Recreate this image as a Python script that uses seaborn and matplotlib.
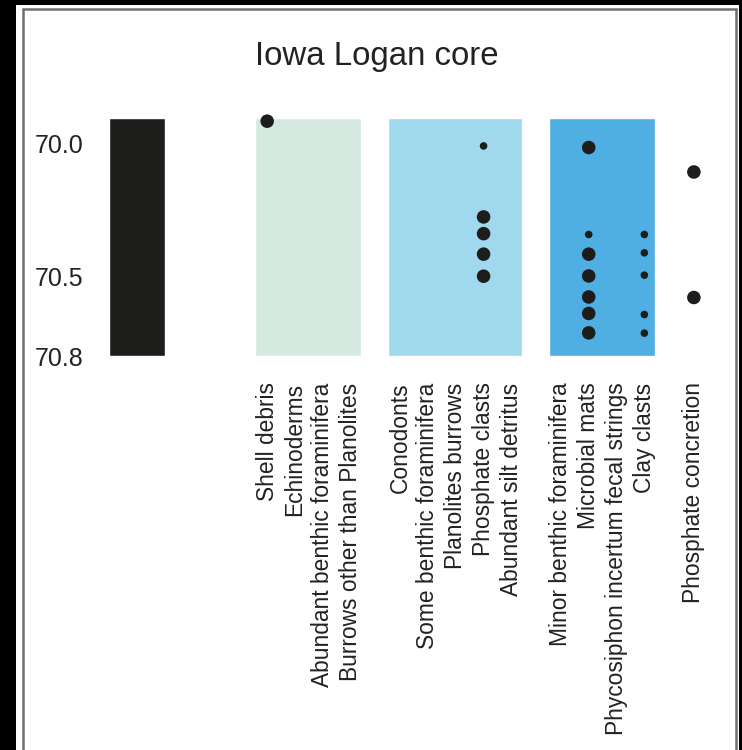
import numpy as np
import pandas as pd
import matplotlib.pyplot as plt
import seaborn as sns
from matplotlib.patches import Rectangle
from matplotlib.lines import Line2D

# 数据
categories = ['Shell debris', 'Echinoderms', 'Abundant benthic foraminifera',
              'Burrows other than Planolites',
              'Conodonts', 'Some benthic foraminifera', 'Planolites burrows',
              'Phosphate clasts', 'Abundant silt detritus',
              'Minor benthic foraminifera', 'Microbial mats',
              'Phycosiphon incertum fecal strings', 'Clay clasts',
              'Phosphate concretion']
groups = [0, 0, 0, 0, 1, 1, 1, 1, 1, 2, 2, 2, 2, 3]
band_colors = {0: '#d4eae0', 1: '#a0d8ee', 2: '#4faee2'}

core_top = 69.905
core_bottom = 70.8
depth_ticks = [70.0, 70.5, 70.8]

occ_category = (['Shell debris']
                + ['Phosphate clasts'] * 5
                + ['Microbial mats'] * 7
                + ['Clay clasts'] * 5
                + ['Phosphate concretion'] * 2)
occ_depth = ([69.917]
             + [70.01, 70.277, 70.34, 70.417, 70.5]
             + [70.016, 70.343, 70.417, 70.499, 70.578, 70.64, 70.713]
             + [70.343, 70.412, 70.496, 70.644, 70.714]
             + [70.108, 70.58])
occ_size = (['large']
            + ['small', 'large', 'large', 'large', 'large']
            + ['large', 'small', 'large', 'large', 'large', 'large', 'large']
            + ['small'] * 5
            + ['large', 'large'])

# 位置
group_gap = 0.78
xpos = np.arange(len(categories)) + group_gap * np.array(groups)
pos = dict(zip(categories, xpos))
core_x = -4.68

df = pd.DataFrame({'category': occ_category, 'depth': occ_depth, 'size': occ_size})
df['x'] = df['category'].map(pos)

sns.set_theme(style='white')
plt.rcParams['font.family'] = ['Liberation Sans', 'DejaVu Sans']

fig = plt.figure(figsize=(7.42, 7.5), dpi=100, facecolor='black')
# 白色背景和灰色边框
fig.add_artist(Rectangle((16 / 742, 0), (739 - 16) / 742, (750 - 5) / 750,
                         transform=fig.transFigure, facecolor='white',
                         edgecolor='none', zorder=-10))
for xs, ys in [([22.5, 22.5], [0, 741.5]), ([22.5, 735.5], [741.5, 741.5]),
               ([735.5, 735.5], [741.5, 0])]:
    fig.add_artist(Line2D(np.array(xs) / 742, np.array(ys) / 750,
                          transform=fig.transFigure, color='#707070', lw=1.8))

ax = fig.add_axes([95 / 742, 394 / 750, 620 / 742, 238 / 750])
ax.set_facecolor('none')

# 岩芯柱
ax.bar(core_x, core_bottom - core_top, bottom=core_top, width=1.98,
       color='#1d1d1b', zorder=1)

# 分组色带
for g, c in band_colors.items():
    gx = xpos[np.array(groups) == g]
    left, right = gx.min() - 0.43, gx.max() + 0.38
    ax.bar((left + right) / 2, core_bottom - core_top, bottom=core_top,
           width=right - left, color=c, zorder=1)

sns.scatterplot(data=df, x='x', y='depth', size='size',
                sizes={'large': 95, 'small': 30}, color='#1d1d1b',
                linewidth=0, legend=False, ax=ax, zorder=3, clip_on=False)

ax.set_xlim(-6.19, 16.1)
ax.set_ylim(core_bottom, core_top)
ax.set_xticks(xpos, categories, rotation=90, fontsize=16.4, color='#222222')
ax.set_yticks(depth_ticks, [f'{d:.1f}' for d in depth_ticks],
              fontsize=18, color='#222222')
ax.tick_params(axis='x', length=0, pad=19)
ax.tick_params(axis='y', length=0, pad=8.5)
ax.set_xlabel('')
ax.set_ylabel('')
sns.despine(ax=ax, left=True, bottom=True)

fig.text(377 / 742, 1 - 56 / 750, 'Iowa Logan core', ha='center', va='center',
         fontsize=23.8, color='#222222')

plt.savefig('out.png', dpi=100, facecolor='black')
